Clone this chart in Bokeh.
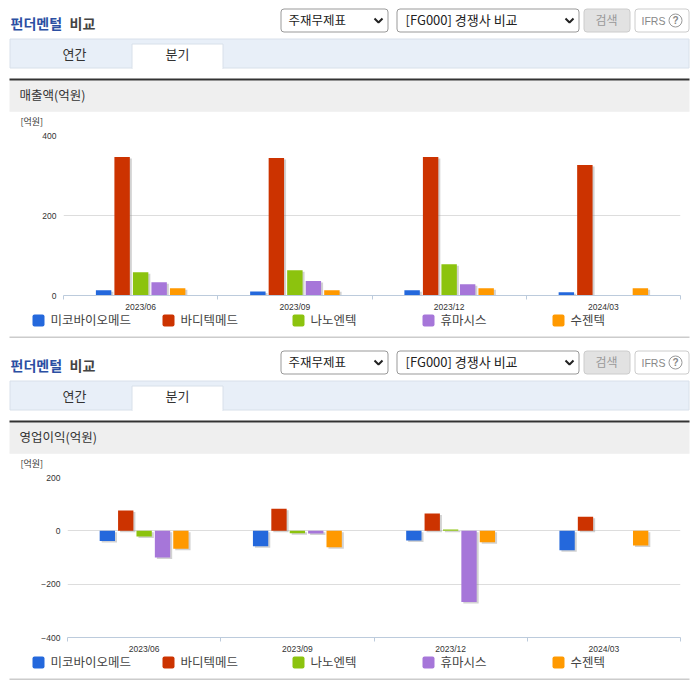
from bokeh.core.properties import value
from bokeh.embed import file_html
from bokeh.models import FixedTicker, Grid, LinearAxis, Range1d, ColumnDataSource
from bokeh.plotting import figure
from bokeh.resources import INLINE

periods = ["2023/06", "2023/09", "2023/12", "2024/03"]
series = ["미코바이오메드", "바디텍메드", "나노엔텍", "휴마시스", "수젠텍"]
colors = ["#2468dc", "#cc3300", "#8cc30e", "#a676d9", "#ff9900"]
nan = float("nan")

micobio_sales = [13, 10, 13, 8]
boditech_sales = [346, 344, 346, 326]
nanoentek_sales = [58, 63, 78, nan]
humasis_sales = [33, 36, 28, nan]
sugentech_sales = [18, 13, 18, 18]

micobio_op = [-38, -58, -36, -73]
boditech_op = [76, 83, 65, 53]
nanoentek_op = [-21, -9, 5, nan]
humasis_op = [-100, -10, -267, nan]
sugentech_op = [-67, -62, -43, -55]

sales_ticks = [0, 200, 400]
op_ticks = [-400, -200, 0, 200]

W = 690
FONT = "Noto Sans CJK KR"
LATIN = "Liberation Sans"
OVERLAP = 6


def canvas(y0, y1, **kw):
    p = figure(width=W, height=y1 - y0, x_range=Range1d(0, W), y_range=Range1d(y1, y0),
               output_backend="svg", toolbar_location=None, min_border=0, x_axis_type=None,
               y_axis_type=None, outline_line_color=None, background_fill_color="white",
               border_fill_color="white", **kw)
    p.grid.visible = False
    return p


def txt(p, x, y, s, size, color="#333333", font=FONT, align="left", style="normal"):
    shift = 1 if font == FONT else 0
    p.text([x], [y - shift], text=[s], text_font=value(font), text_font_size=f"{size}px", text_color=color,
           text_align=align, text_baseline="middle", text_font_style=style)


def box(p, l, r, t, b, fill, line=None, radius=0):
    p.quad(left=[l], right=[r], top=[t], bottom=[b], fill_color=fill, line_color=line,
           border_radius=radius)


def header(y0, y1, off, title):
    p = canvas(y0, y1)
    txt(p, 10, 23 + off, "펀더멘털", 14, "#2b4fa3", style="bold")
    txt(p, 69, 23 + off, "비교", 14, "#444444", style="bold")
    box(p, 280.5, 387.5, 8.5 + off, 31.5 + off, "white", "#999999", 3)
    txt(p, 288, 20 + off, "주재무제표", 12.5, "#222222")
    box(p, 396.5, 578.5, 8.5 + off, 31.5 + off, "white", "#999999", 3)
    txt(p, 405, 20 + off, "[FG000] 경쟁사 비교", 13, "#222222")
    for cx in (378, 569):
        p.line([cx - 4, cx, cx + 4], [18 + off, 22 + off, 18 + off], line_color="#222222", line_width=2)
    box(p, 583.5, 629.5, 8.5 + off, 31.5 + off, "#e2e2e2", "#cccccc", 3)
    txt(p, 606, 20 + off, "검색", 12, "#999999", align="center")
    box(p, 634.5, 688.5, 8.5 + off, 31.5 + off, "white", "#cccccc", 3)
    txt(p, 641, 20 + off, "IFRS", 10.5, "#888888", LATIN)
    p.scatter([675], [20 + off], size=13, marker="circle", fill_color="white", line_color="#999999")
    txt(p, 675, 20 + off, "?", 10, "#888888", LATIN, "center", "bold")
    box(p, 9.5, 688.5, 38.5 + off, 67.5 + off, "#e8eff8", "#d8e0ea")
    box(p, 131.5, 222.5, 43.5 + off, 68 + off, "white", "#d8e0ea")
    p.line([132, 222], [68 + off, 68 + off], line_color="white", line_width=1.5)
    txt(p, 74, 54 + off, "연간", 13, align="center")
    txt(p, 177, 54 + off, "분기", 13, align="center")
    box(p, 9, 689, 80 + off, 110 + off, "#efefef")
    box(p, 9, 689, 78 + off, 80 + off, "#333333")
    p.line([9, 689], [110.5 + off, 110.5 + off], line_color="#e6e6e6", line_width=1)
    txt(p, 19, 95 + off, title, 12.5)
    txt(p, 20, 122 + off, "[억원]", 9)
    return p


def legend(y0, y1, cy, rule_y):
    p = canvas(y0 - OVERLAP, y1, styles={"margin-top": f"-{OVERLAP}px", "position": "relative"})
    p.background_fill_alpha = 0
    p.border_fill_alpha = 0
    for k, name in enumerate(series):
        x = 32 + 130 * k
        box(p, x, x + 12, cy - 6, cy + 6, colors[k], None, 2)
        txt(p, x + 18, cy, name, 12.5, "#444444")
    box(p, 9, 689, rule_y, rule_y + 2, "#cccccc")
    return p


def chart(y0, y1, frame_t, frame_b, left, rows, y_start, y_end, ticks):
    p = figure(width=W, height=y1 - y0, x_range=Range1d(0, len(periods)),
               y_range=Range1d(y_start, y_end), output_backend="svg", toolbar_location=None,
               x_axis_type=None, y_axis_type=None, min_border_left=left, min_border_right=W - 680,
               min_border_top=frame_t - y0, min_border_bottom=y1 - frame_b,
               outline_line_color=None, background_fill_color="white", border_fill_color="white")
    px_x = (680 - left) / len(periods)
    px_y = (frame_b - frame_t) / (y_end - y_start)
    yaxis = LinearAxis(ticker=FixedTicker(ticks=ticks), axis_line_color=None, major_tick_line_color=None,
                       minor_tick_line_color=None, major_tick_in=0, major_tick_out=0,
                       major_label_standoff=7,
                       major_label_text_font=LATIN, major_label_text_font_size="8.5px",
                       major_label_text_color="#333333")
    p.add_layout(yaxis, "left")
    xaxis = LinearAxis(ticker=FixedTicker(ticks=[i + 0.5 for i in range(len(periods))],
                                          minor_ticks=list(range(len(periods) + 1))),
                       major_label_overrides={i + 0.5: s for i, s in enumerate(periods)},
                       axis_line_color="#bccbdc", major_tick_line_color=None,
                       minor_tick_line_color="#bccbdc", minor_tick_out=4, minor_tick_in=0,
                       major_tick_in=0, major_tick_out=0, major_label_standoff=2,
                       major_label_text_font=LATIN, major_label_text_font_size="8.5px",
                       major_label_text_color="#333333")
    p.add_layout(xaxis, "below")
    p.add_layout(Grid(dimension=1, ticker=FixedTicker(ticks=ticks), grid_line_color="#dddddd"))
    dx = 2 / px_x
    dy = 1.5 / px_y
    for k, vals in enumerate(rows):
        xs = [i + 0.5 + (k - 2) * 0.12 for i in range(len(vals))]
        src = ColumnDataSource(dict(
            x=xs, sx=[x + dx for x in xs], top=vals, stop=[v - dy for v in vals], sbot=[-dy] * len(vals),
        ))
        p.vbar(x="sx", width=0.1, top="stop", bottom="sbot", source=src, fill_color="#8f8f8f",
               fill_alpha=0.4, line_color=None)
        p.vbar(x="x", width=0.1, top="top", bottom=0, source=src, fill_color=colors[k], line_color=None)
    return p


sales_rows = [micobio_sales, boditech_sales, nanoentek_sales, humasis_sales, sugentech_sales]
op_rows = [micobio_op, boditech_op, nanoentek_op, humasis_op, sugentech_op]

roots = [
    header(0, 130, 0, "매출액(억원)"),
    chart(130, 314, 135, 296, 63, sales_rows, 0, 400, sales_ticks),
    legend(314, 338, 320, 336),
    header(338, 472, 342, "영업이익(억원)"),
    chart(472, 656, 477, 638, 67, op_rows, -400, 200, op_ticks),
    legend(656, 680, 662, 678),
]

open("out.html", "w").write(file_html(roots, INLINE))
